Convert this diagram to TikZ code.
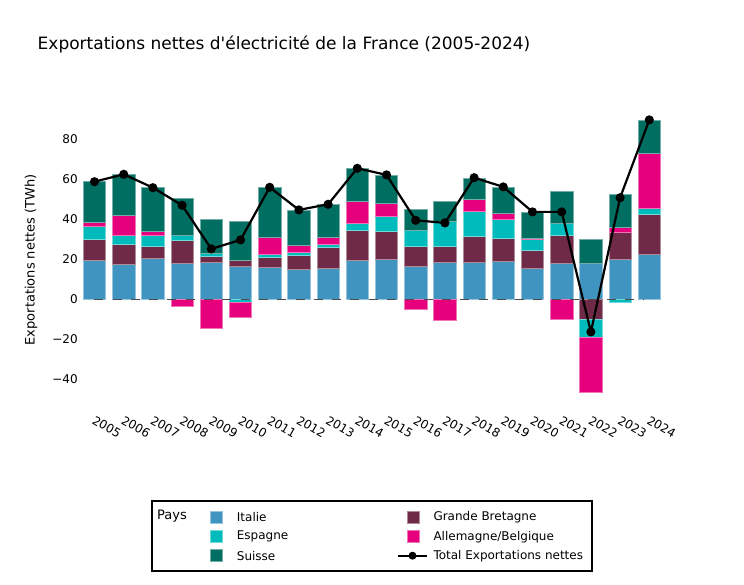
\documentclass[tikz,border=0pt]{standalone}
\usepackage{fontspec}
\setmainfont{DejaVu Sans}
\usetikzlibrary{calc}
\definecolor{italie}{RGB}{64,148,192}
\definecolor{espagne}{RGB}{0,187,187}
\definecolor{suisse}{RGB}{0,110,96}
\definecolor{bretagne}{RGB}{110,42,70}
\definecolor{allemagne}{RGB}{230,0,126}
\definecolor{zeroGray}{gray}{0.3}
\tikzset{
  barseg/.style={fill=#1, draw=#1!55!white, line width=0.5pt},
  keybox/.style={fill=#1, draw=#1!55!white, line width=0.5pt, minimum size=12pt, inner sep=0pt},
  keytext/.style={anchor=west, inner sep=0pt, font=\fontsize{12}{14}\selectfont},
}

% one piece of a stacked bar, positive parts go up, negative parts go down
\newcommand{\stackseg}[3]{%
  \ifdim #2 pt<0pt
    \pgfmathsetmacro{\segend}{\negtop+(#2)}%
    \filldraw[barseg=#3] ({#1-0.385},\negtop) rectangle ({#1+0.385},\segend);%
    \xdef\negtop{\segend}%
  \else
    \pgfmathsetmacro{\segend}{\postop+(#2)}%
    \filldraw[barseg=#3] ({#1-0.385},\postop) rectangle ({#1+0.385},\segend);%
    \xdef\postop{\segend}%
  \fi}

\begin{document}
\begin{tikzpicture}[x=1pt, y=1pt]
    \useasboundingbox[fill=white] (0,0) rectangle (744,584);

    % Title
    \node[anchor=base west, inner sep=0pt, font=\fontsize{17}{20}\selectfont] (title) at (37.5,534)
        {Exportations nettes d\textquotesingle électricité de la France (2005-2024)};

    % Axis title
    \node[rotate=90, inner sep=0pt, font=\fontsize{13}{15}\selectfont] (ytitle) at (31,324) {Exportations nettes (TWh)};

    \begin{scope}[shift={(94.5,284.7)}, x=29.2pt, y=2pt]
        % Bars: Italie, Grande Bretagne, Espagne, Allemagne/Belgique, Suisse, total
        \foreach \i/\vi/\vg/\ve/\va/\vs/\tot in {
            0/19.5/10.5/6.5/2/20.5/58.8,
            1/17.5/10/4.5/10/20.5/62.5,
            2/20.5/6/5.5/2/21.8/55.8,
            3/18/11.3/2.7/-3.3/18.7/47,
            4/18.3/3.4/1.5/-14.7/16.8/25.2,
            5/16.3/3/-1.5/-7.5/19.5/29.7,
            6/16/4.8/1.5/8.5/25.2/56,
            7/15.2/6.6/1.9/3.3/17.7/44.7,
            8/15.5/10.3/1.9/3.1/16.5/47.5,
            9/19.3/15.2/3.7/10.8/16.5/65.5,
            10/19.8/14/7.5/6.7/14/62.2,
            11/16.7/10/7.8/-5/10.3/39.5,
            12/18.3/8.2/12.7/-10.7/10/38.2,
            13/18.7/13/12.3/6/10.7/60.8,
            14/18.8/11.5/9.9/2.6/13.2/56.2,
            15/15.5/9/5.3/0.7/13.2/43.7,
            16/18/14/6/-9.8/15.8/43.7,
            17/18/-9.8/-9.2/-27.3/12.2/-16.3,
            18/20.2/13.3/-1.5/2.5/16.5/50.8,
            19/22.5/20/2.8/27.5/16.7/89.7} {
            \xdef\postop{0}\xdef\negtop{0}
            \stackseg{\i}{\vi}{italie}
            \stackseg{\i}{\vg}{bretagne}
            \stackseg{\i}{\ve}{espagne}
            \stackseg{\i}{\va}{allemagne}
            \stackseg{\i}{\vs}{suisse}
            \coordinate (t\i) at (\i,\tot);
            \pgfmathtruncatemacro{\yr}{2005+\i}
            \node[rotate=-30, anchor=north west, inner sep=0pt, font=\fontsize{12}{14}\selectfont] (yr\i) at (\i+0.04,-57.9) {\yr};
        }

        % zero line
        \draw[zeroGray, line width=1.4pt, dash pattern=on 9pt off 9.3pt] (-0.01,0) -- (18.8,0);

        % y ticks
        \foreach \v/\lab in {80/80, 60/60, 40/40, 20/20, 0/0, -20/−20, -40/−40}
            \node[anchor=east, inner sep=0pt, font=\fontsize{12}{14}\selectfont] (tick\v) at (-0.57,\v) {\lab};

        % total line
        \draw[line width=2.2pt, black, line join=round] (t0) \foreach \i in {1,...,19} { -- (t\i) };
        \foreach \i in {0,...,19}
            \fill (t\i) circle (4.6pt);
    \end{scope}

    % Legend
    \draw[line width=2pt] (152.3,13) rectangle (591.7,83);
    \node[keytext, font=\fontsize{13}{15}\selectfont] (pays) at (157,67.5) {Pays};
    \node[keybox=italie] (kIt) at (216.7,66.7) {};
    \node[keytext] (lIt) at (236.7,66.7) {Italie};
    \node[keybox=espagne] (kEs) at (216.7,47.3) {};
    \node[keytext] (lEs) at (236.7,47.3) {Espagne};
    \node[keybox=suisse] (kSu) at (216.7,28.3) {};
    \node[keytext] (lSu) at (236.7,28.3) {Suisse};
    \node[keybox=bretagne] (kGb) at (413,66.7) {};
    \node[keytext] (lGb) at (433.3,66.7) {Grande Bretagne};
    \node[keybox=allemagne] (kAb) at (413,47.3) {};
    \node[keytext] (lAb) at (433.3,47.3) {Allemagne/Belgique};
    \coordinate (kTa) at (398.3,28.3);
    \coordinate (kTb) at (426.7,28.3);
    \draw[line width=2.2pt] (kTa) -- (kTb);
    \fill ($(kTa)!0.5!(kTb)$) circle (4pt);
    \node[keytext] (lTot) at (433.3,28.3) {Total Exportations nettes};
\end{tikzpicture}
\end{document}
